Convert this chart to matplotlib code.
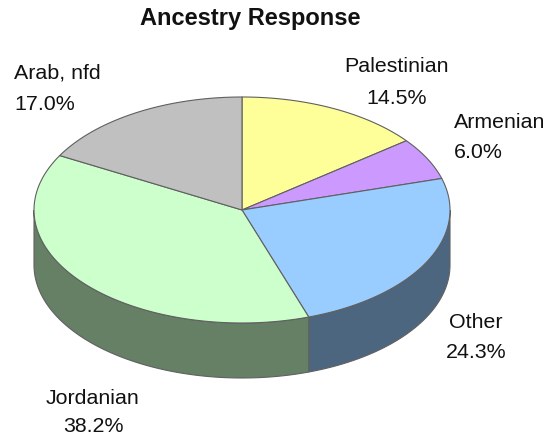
import numpy as np
import matplotlib
matplotlib.use("Agg")
import matplotlib.pyplot as plt
from matplotlib.patches import Polygon
from matplotlib.colors import to_rgb

# ---- data ----
categories = ["Palestinian", "Armenian", "Other", "Jordanian", "Arab, nfd"]
values = [14.5, 6.0, 24.3, 38.2, 17.0]
colors = ["#FFFF99", "#CC99FF", "#99CCFF", "#CCFFCC", "#C0C0C0"]
title = "Ancestry Response"

# ---- geometry (pixel coordinates) ----
W, H = 548, 440
cx, cy, rx, ry, depth = 242, 210, 208, 113, 55
start = 90.0
edge = "#606060"
lw = 0.8

# label placement: (x, y_line1, y_line2, ha)
label_pos = {
    "Palestinian": (397, 66, 98, "center"),
    "Armenian": (454, 122, 152, "left"),
    "Other": (476, 323, 353, "center"),
    "Jordanian": (93, 398, 427, "center"),
    "Arab, nfd": (14, 73, 105, "left"),
}

plt.rcParams['font.family'] = ['Liberation Sans', 'DejaVu Sans']
fig = plt.figure(figsize=(W / 100, H / 100), dpi=100)
ax = fig.add_axes([0, 0, 1, 1])
ax.set_xlim(0, W)
ax.set_ylim(H, 0)
ax.axis("off")

def pt(theta_deg, dz=0):
    t = np.radians(theta_deg)
    return cx + rx * np.cos(t), cy - ry * np.sin(t) + dz

total = sum(values)
angles = []
a = start
for v in values:
    a2 = a - v / total * 360.0
    angles.append((a, a2))
    a = a2

def darken(c, f=0.5):
    r, g, b = to_rgb(c)
    return (r * f, g * f, b * f)

# side walls (front half only: theta in [-180, 0])
for (a1, a2), col in zip(angles, colors):
    hi, lo = a1, a2
    for shift in (0, -360, 360):
        h, l = hi + shift, lo + shift
        s_hi = min(h, 0.0)
        s_lo = max(l, -180.0)
        if s_hi > s_lo:
            ts = np.linspace(s_hi, s_lo, 80)
            top = [pt(t) for t in ts]
            bot = [pt(t, depth) for t in ts[::-1]]
            poly = Polygon(top + bot, closed=True, facecolor=darken(col),
                           edgecolor=edge, linewidth=lw, zorder=1)
            ax.add_patch(poly)

# top faces
for (a1, a2), col in zip(angles, colors):
    ts = np.linspace(a1, a2, 120)
    pts = [(cx, cy)] + [pt(t) for t in ts]
    poly = Polygon(pts, closed=True, facecolor=col, edgecolor=edge,
                   linewidth=lw, zorder=2, joinstyle="round")
    ax.add_patch(poly)

# labels
for cat, v in zip(categories, values):
    x, y1, y2, ha = label_pos[cat]
    ax.text(x, y1, cat, ha=ha, va="center", fontsize=15.4, color="#111111")
    ax.text(x, y2, f"{v:.1f}%", ha=ha, va="center", fontsize=15.4, color="#111111")

ax.text(250, 18, title, ha="center", va="center", fontsize=17, fontweight="bold",
        color="#111111")

fig.savefig("out.png", dpi=100)
